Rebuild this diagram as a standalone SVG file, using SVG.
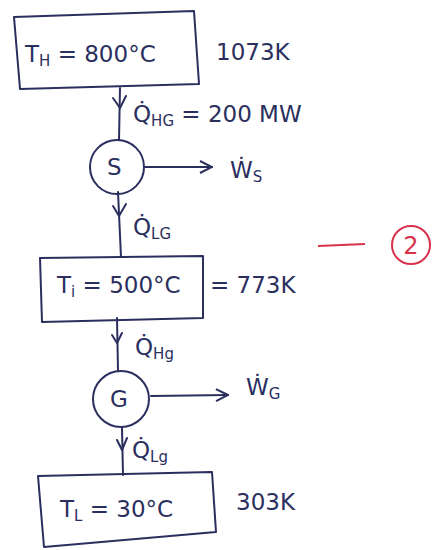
<svg xmlns="http://www.w3.org/2000/svg" width="434" height="550" viewBox="0 0 434 550">
<style>
.ln{stroke:#2b2f5e;stroke-width:2;fill:none;stroke-linecap:round;stroke-linejoin:round}
.t{font-family:"DejaVu Sans","Liberation Sans",sans-serif;fill:#2b2f5e;font-size:23px}
.s{font-size:15px}
.red{stroke:#d8324a;stroke-width:2;fill:none}
</style>
<defs>
<marker id="open" viewBox="0 0 14 14" refX="13" refY="7" markerWidth="14" markerHeight="14" markerUnits="userSpaceOnUse" orient="auto">
<path d="M1,1 L13,7 L1,13" fill="none" stroke="#2b2f5e" stroke-width="2"/>
</marker>
</defs>
<rect width="434" height="550" fill="#ffffff"/>
<g id="connectors">
<line class="ln" x1="120" y1="88" x2="119" y2="140"/>
<path class="ln" d="M113,98 L120,108 L126,96"/>
<line class="ln" x1="118" y1="192" x2="121" y2="257"/>
<path class="ln" d="M113,206 L119,216 L126,204"/>
<line class="ln" x1="117" y1="318" x2="118" y2="371"/>
<path class="ln" d="M112,335 L117,343 L122,333"/>
<line class="ln" x1="122" y1="428" x2="123" y2="475"/>
<path class="ln" d="M117,440 L122,450 L127,438"/>
<line class="ln" x1="145" y1="167" x2="212" y2="167" marker-end="url(#open)"/>
<line class="ln" x1="151" y1="396" x2="228" y2="395" marker-end="url(#open)"/>
</g>
<g id="TH">
<path class="ln" d="M14,17 L194,11 L199,84 L20,89 Z"/>
<text class="t" x="25" y="62">T<tspan class="s" dy="4">H</tspan><tspan dy="-4"> = 800°C</tspan></text>
<text class="t" x="216" y="60">1073K</text>
</g>
<g id="S">
<circle class="ln" cx="117" cy="167" r="27"/>
<text class="t" x="107" y="175">S</text>
</g>
<g id="Ti">
<path class="ln" d="M40,258 L203,256 L203,318 L42,322 Z"/>
<text class="t" x="57" y="293">T<tspan class="s" dy="4">i</tspan><tspan dy="-4"> = 500°C</tspan></text>
<text class="t" x="210" y="293">= 773K</text>
</g>
<g id="G">
<circle class="ln" cx="121" cy="399" r="28"/>
<text class="t" x="110" y="407">G</text>
</g>
<g id="TL">
<path class="ln" d="M38,476 L212,472 L216,532 L44,547 Z"/>
<text class="t" x="60" y="517">T<tspan class="s" dy="4">L</tspan><tspan dy="-4"> = 30°C</tspan></text>
<text class="t" x="236" y="510">303K</text>
</g>
<g id="labels">
<text class="t" x="133" y="122">Q̇<tspan class="s" dy="4">HG</tspan><tspan dy="-4"> = 200 MW</tspan></text>
<text class="t" x="230" y="178">Ẇ<tspan class="s" dy="4">S</tspan></text>
<text class="t" x="133" y="235">Q̇<tspan class="s" dy="4">LG</tspan></text>
<text class="t" x="135" y="355">Q̇<tspan class="s" dy="4">Hg</tspan></text>
<text class="t" x="246" y="395">Ẇ<tspan class="s" dy="4">G</tspan></text>
<text class="t" x="132" y="458">Q̇<tspan class="s" dy="4">Lg</tspan></text>
</g>
<g id="mark">
<line class="red" x1="318" y1="246" x2="365" y2="244"/>
<circle class="red" cx="411" cy="245" r="19"/>
<text x="411" y="254" text-anchor="middle" font-family="DejaVu Sans, sans-serif" font-size="24" fill="#d8324a">2</text>
</g>
</svg>
